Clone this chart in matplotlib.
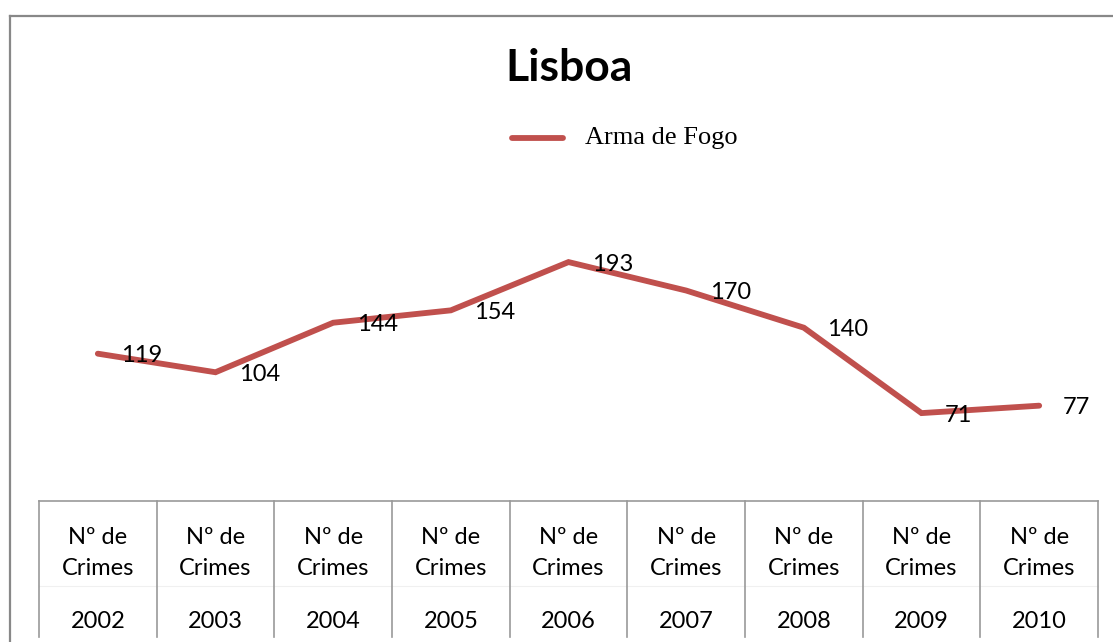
import matplotlib.pyplot as plt
from matplotlib.lines import Line2D

years = ['2002', '2003', '2004', '2005', '2006', '2007', '2008', '2009', '2010']
top_label = 'Nº de\nCrimes'
arma_de_fogo = [119, 104, 144, 154, 193, 170, 140, 71, 77]

W, H = 1113, 642
fig = plt.figure(figsize=(W / 100, H / 100), dpi=100)

# plot area in pixel coords: x 39..1098, y 191..501 (from top)
x0, x1, ytop, ybot = 39, 1098, 191.5, 501
ax = fig.add_axes([x0 / W, 1 - ybot / H, (x1 - x0) / W, (ybot - ytop) / H])
ax.set_xlim(-0.5, len(years) - 0.5)
ax.set_ylim(0, 250)
ax.axis('off')

xs = range(len(years))
ax.plot(xs, arma_de_fogo, color='#C0504D', lw=4.2, solid_capstyle='round',
        solid_joinstyle='miter', clip_on=False)

for x, v in zip(xs, arma_de_fogo):
    ax.annotate(str(v), (x, v), xytext=(17, -1.5), textcoords='offset points',
                ha='left', va='center', fontsize=17, family='Lato', color='black')

# chart border (only top and left visible)
fig.add_artist(Line2D([9.5 / W, 1], [1 - 15.5 / H, 1 - 15.5 / H], color='#888888', lw=1.6))
fig.add_artist(Line2D([9.5 / W, 9.5 / W], [0, 1 - 15.5 / H], color='#888888', lw=1.6))

# category table below the plot
cw = (x1 - x0) / len(years)
fig.add_artist(Line2D([x0 / W, x1 / W], [1 - 501 / H, 1 - 501 / H], color='#999999', lw=1.2))
fig.add_artist(Line2D([x0 / W, x1 / W], [1 - 586 / H, 1 - 586 / H], color='#f0f0f0', lw=0.8))
for i in range(len(years) + 1):
    xp = (x0 + i * cw) / W
    fig.add_artist(Line2D([xp, xp], [1 - 501 / H, 1 - 637 / H], color='#999999', lw=1.2))
for i, yr in enumerate(years):
    xc = (x0 + (i + 0.5) * cw) / W
    fig.text(xc, 1 - 553 / H, top_label, ha='center', va='center', fontsize=17,
             family='Lato', linespacing=1.6)
    fig.text(xc, 1 - 621 / H, yr, ha='center', va='center', fontsize=17, family='Lato')

# title and legend
fig.text(569 / W, 1 - 68 / H, 'Lisboa', ha='center', va='center', fontsize=32,
         fontweight='bold', family='Lato')
fig.add_artist(Line2D([512 / W, 563 / W], [1 - 138 / H, 1 - 138 / H], color='#C0504D',
                      lw=4.2, solid_capstyle='round'))
fig.text(585 / W, 1 - 138 / H, 'Arma de Fogo', ha='left', va='center', fontsize=19,
         family='Liberation Serif')

fig.savefig('out.png', dpi=100, facecolor='white')
